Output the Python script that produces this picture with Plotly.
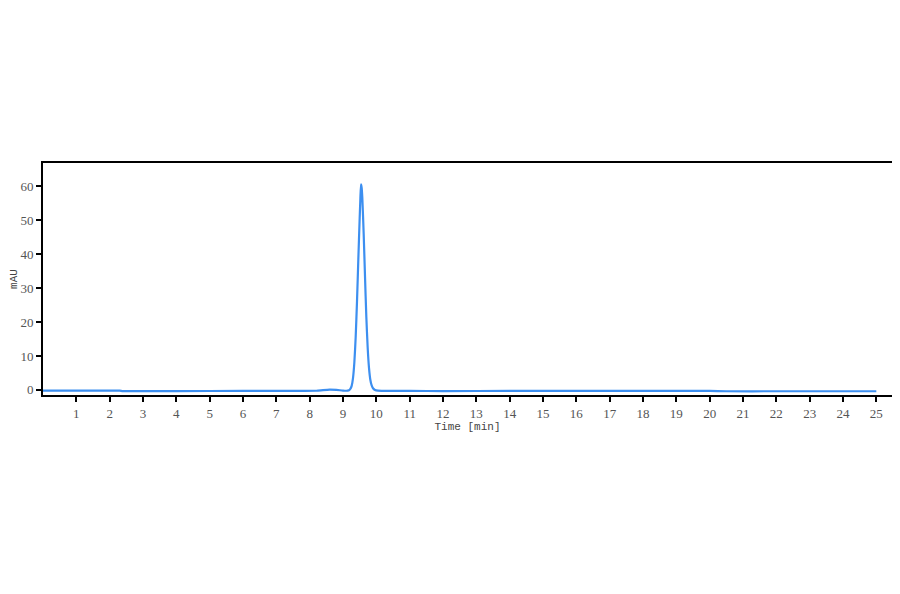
import plotly.graph_objects as go

# chromatogram (time in min, signal in mAU)
time_min = [0.0, 1.0, 2.0, 2.3, 2.4, 4.0, 6.0, 7.5, 8.2, 8.4, 8.6, 8.8, 9.0, 9.1,
            9.14, 9.18, 9.22, 9.26, 9.30, 9.34, 9.38, 9.42, 9.46, 9.50, 9.52,
            9.54, 9.56, 9.58, 9.62, 9.66, 9.70, 9.74, 9.78, 9.82, 9.86, 9.90,
            9.96, 10.05, 10.4, 11.0, 12.0, 14.0, 16.0, 18.0, 20.0, 20.5, 22.0,
            24.0, 25.0]
signal_mau = [-0.2, -0.2, -0.2, -0.2, -0.35, -0.35, -0.3, -0.3, -0.25, -0.05, 0.1, 0.0, -0.2, -0.25,
              -0.2, -0.1, 0.3, 1.2, 3.5, 8.0, 15.5, 26.0, 38.5, 50.5, 56.0,
              60.5, 59.5, 56.5, 46.0, 33.5, 21.5, 12.5, 6.5, 3.0, 1.3, 0.5,
              0.0, -0.2, -0.3, -0.3, -0.35, -0.3, -0.3, -0.3, -0.3, -0.4, -0.4,
              -0.4, -0.4]

x_ticks = list(range(1, 26))
y_ticks = [0, 10, 20, 30, 40, 50, 60]

tick_font = dict(family="Liberation Serif", size=13, color="#555")
title_font = dict(family="Liberation Mono", size=11, color="#444")

fig = go.Figure()
fig.add_trace(go.Scatter(x=time_min, y=signal_mau, mode="lines",
                         line=dict(color="#3d8ff0", width=2.2, shape="spline", smoothing=0.6),
                         hoverinfo="x+y", showlegend=False))

# page body adds ~8px offset, so the figure is kept smaller to avoid scrollbars
fig.update_layout(
    width=884, height=578,
    margin=dict(l=35, r=0, t=155, b=191),
    paper_bgcolor="white", plot_bgcolor="white",
)
fig.update_xaxes(range=[0, 25.47], tickvals=x_ticks, ticks="outside", ticklen=5,
                 tickwidth=1.5, tickcolor="black", showgrid=False, zeroline=False,
                 showline=True, linecolor="black", linewidth=2, mirror=True,
                 automargin=False,
                 title=dict(text="Time [min]", standoff=0, font=title_font),
                 tickfont=tick_font)
fig.update_yaxes(range=[-1.5, 66.8], tickvals=y_ticks, ticks="outside", ticklen=5,
                 tickwidth=1.5, tickcolor="black", showgrid=False, zeroline=False,
                 showline=True, linecolor="black", linewidth=2, mirror=True,
                 automargin=False,
                 title=dict(text="mAU", standoff=0, font=title_font),
                 tickfont=tick_font)

fig.write_html("out.html")
